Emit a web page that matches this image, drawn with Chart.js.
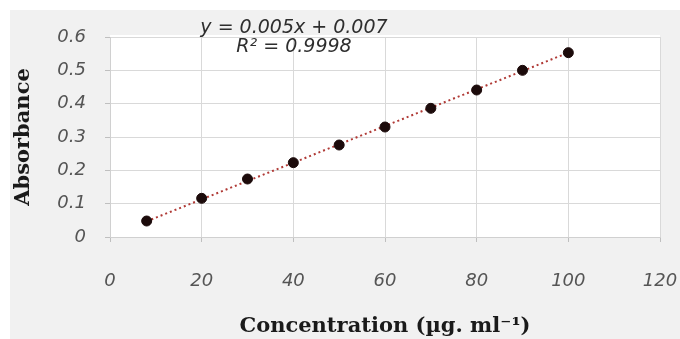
<!DOCTYPE html>
<html>
<head>
<meta charset="utf-8">
<script src="https://cdn.jsdelivr.net/npm/chart.js@4"></script>
<style>
    html, body { margin: 0; padding: 0; background: #ffffff; }
    #wrap { width: 680px; height: 339px; position: relative; }
</style>
</head>
<body>
<div id="wrap"><canvas id="calibChart" width="680" height="339"></canvas></div>
<script>
    // ── Data ──
    var concentration = [8, 20, 30, 40, 50, 60, 70, 80, 90, 100];
    var absorbance    = [0.048, 0.116, 0.174, 0.223, 0.276, 0.330, 0.386, 0.441, 0.500, 0.553];
    var trendX        = [8, 100];
    var trendY        = [0.047, 0.553];
    var equationLines = ["y = 0.005x + 0.007", "R\u00b2 = 0.9998"];
    var xTitle = "Concentration (\u00b5g. ml\u207b\u00b9)";
    var yTitle = "Absorbance";

    function toPoints(xs, ys) {
        return xs.map(function (x, i) { return { x: x, y: ys[i] }; });
    }

    // gray frame + white plot area, equation text on top
    var framePlugin = {
        id: "frame",
        beforeDraw: function (chart) {
            var ctx = chart.ctx, a = chart.chartArea;
            ctx.save();
            ctx.fillStyle = "#ffffff";
            ctx.fillRect(0, 0, chart.width, chart.height);
            ctx.fillStyle = "#f1f1f1";
            ctx.fillRect(10, 10, chart.width - 10, chart.height - 10);
            ctx.fillStyle = "#ffffff";
            ctx.fillRect(a.left, a.top - 2, a.right - a.left, a.bottom - a.top + 2);
            ctx.restore();
        },
        afterDraw: function (chart) {
            var ctx = chart.ctx;
            ctx.save();
            ctx.font = "italic 19px 'DejaVu Sans'";
            ctx.fillStyle = "#2e2e2e";
            ctx.textAlign = "center";
            ctx.textBaseline = "middle";
            ctx.fillText(equationLines[0], 294, 28);
            ctx.fillText(equationLines[1], 294, 47);
            ctx.restore();
        }
    };

    var tickFont = { family: "'DejaVu Sans'", size: 18, style: "italic" };
    var titleFont = { family: "'DejaVu Serif'", size: 21, weight: "bold" };

    new Chart(document.getElementById("calibChart"), {
        type: "scatter",
        data: {
            datasets: [
                {
                    label: "Trend",
                    data: toPoints(trendX, trendY),
                    showLine: true,
                    borderColor: "#b03a36",
                    borderWidth: 2,
                    borderDash: [2, 3],
                    pointRadius: 0,
                    order: 2
                },
                {
                    label: "Absorbance",
                    data: toPoints(concentration, absorbance),
                    backgroundColor: "#1c0b0b",
                    borderColor: "#1c0b0b",
                    pointRadius: 5,
                    pointHoverRadius: 5,
                    order: 1
                }
            ]
        },
        options: {
            responsive: false,
            animation: false,
            layout: { padding: { left: 10, top: 37, right: 20, bottom: 0 } },
            plugins: {
                legend: { display: false },
                tooltip: { enabled: false }
            },
            scales: {
                x: {
                    type: "linear",
                    min: 0,
                    max: 120,
                    afterFit: function (scale) {
                        scale.height = 102;
                        scale.paddingLeft = 0;
                        scale.paddingRight = 0;
                    },
                    ticks: { stepSize: 20, padding: 29, color: "#555555", font: tickFont },
                    grid: { color: "#d9d9d9", tickLength: 5, tickColor: "#bfbfbf" },
                    border: { color: "#d0d0d0" },
                    title: {
                        display: true,
                        text: xTitle,
                        color: "#1a1a1a",
                        font: titleFont,
                        padding: { top: 0, bottom: 0 }
                    }
                },
                y: {
                    min: 0,
                    max: 0.6,
                    afterFit: function (scale) {
                        scale.width = 100;
                        scale.paddingTop = 0;
                        scale.paddingBottom = 0;
                    },
                    ticks: {
                        stepSize: 0.1,
                        padding: 19,
                        color: "#555555",
                        font: tickFont,
                        callback: function (v) { return v === 0 ? "0" : v.toFixed(1); }
                    },
                    grid: { color: "#d9d9d9", tickLength: 5, tickColor: "#bfbfbf" },
                    border: { color: "#d0d0d0" },
                    title: {
                        display: true,
                        text: yTitle,
                        color: "#1a1a1a",
                        font: titleFont,
                        padding: { top: 1, bottom: 0 }
                    }
                }
            }
        },
        plugins: [framePlugin]
    });
</script>
</body>
</html>
